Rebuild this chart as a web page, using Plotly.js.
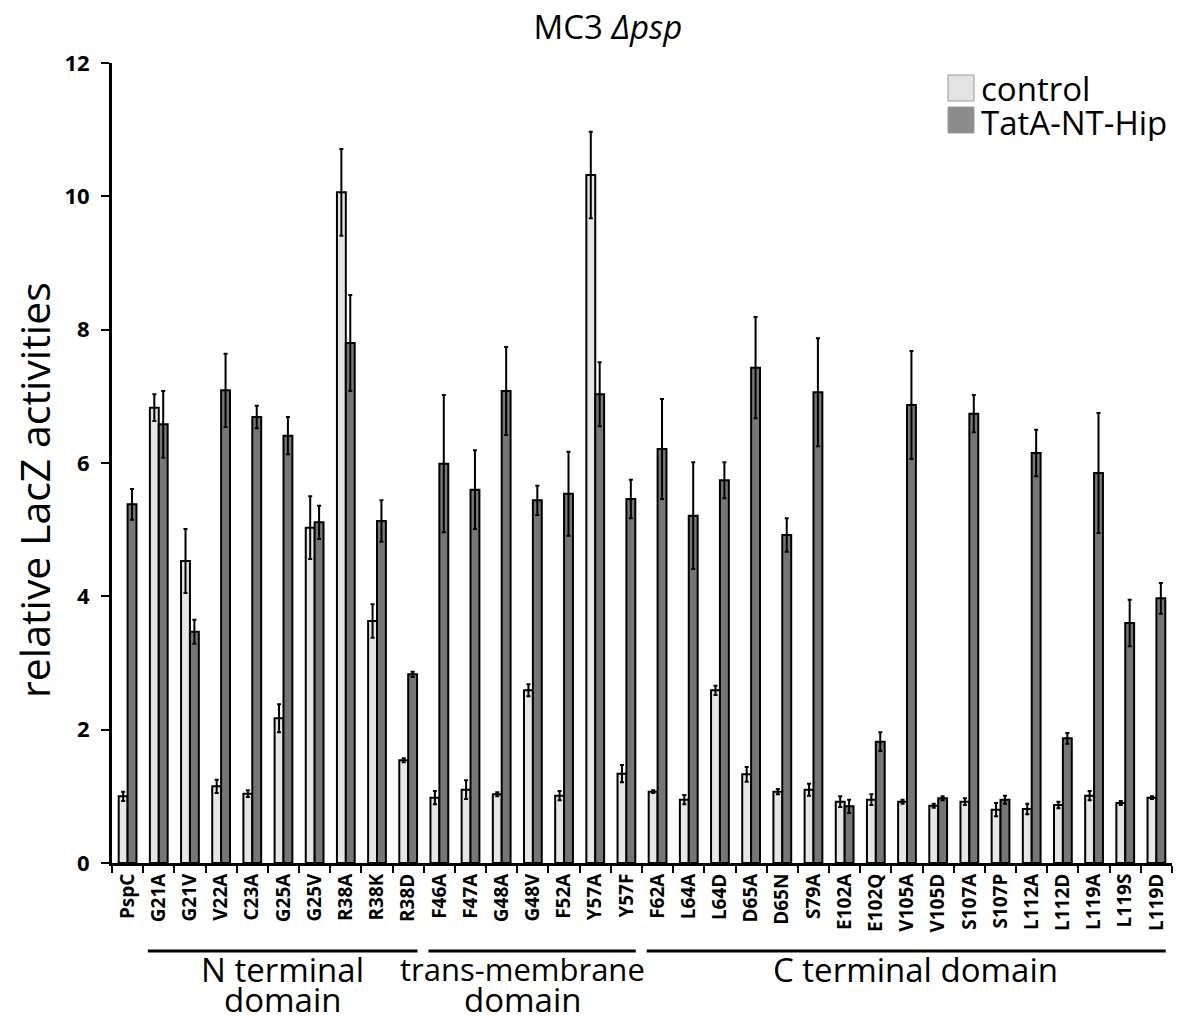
<!DOCTYPE html>
<html>
<head>
<meta charset="utf-8">
<script src="https://cdn.plot.ly/plotly-3.0.1.min.js"></script>
<style>html,body{margin:0;padding:0;background:#fff;}#chart{width:1186px;height:1016px;}</style>
</head>
<body>
<div id="chart"></div>
<script>
const categories = ["PspC","G21A","G21V","V22A","C23A","G25A","G25V","R38A","R38K","R38D",
  "F46A","F47A","G48A","G48V","F52A","Y57A","Y57F",
  "F62A","L64A","L64D","D65A","D65N","S79A","E102A","E102Q","V105A","V105D","S107A","S107P","L112A","L112D","L119A","L119S","L119D"];
const controlValues = [1.00,6.83,4.53,1.15,1.04,2.17,5.03,10.06,3.63,1.54,
  0.98,1.10,1.03,2.59,1.01,10.32,1.34,
  1.07,0.95,2.59,1.33,1.07,1.10,0.92,0.95,0.92,0.86,0.92,0.80,0.81,0.87,1.01,0.90,0.98];
const controlErrors = [0.07,0.20,0.48,0.10,0.05,0.21,0.47,0.65,0.25,0.03,
  0.10,0.14,0.03,0.09,0.07,0.65,0.13,
  0.02,0.07,0.07,0.11,0.04,0.09,0.08,0.08,0.03,0.03,0.05,0.10,0.08,0.05,0.07,0.03,0.02];
const tatValues = [5.38,6.58,3.47,7.09,6.69,6.41,5.11,7.80,5.13,2.83,
  5.99,5.60,7.08,5.44,5.54,7.03,5.46,
  6.21,5.21,5.74,7.43,4.92,7.06,0.85,1.82,6.87,0.97,6.74,0.95,6.15,1.87,5.85,3.60,3.97];
const tatErrors = [0.23,0.50,0.18,0.55,0.17,0.28,0.25,0.72,0.31,0.04,
  1.03,0.59,0.66,0.22,0.63,0.48,0.29,
  0.75,0.80,0.27,0.76,0.25,0.81,0.10,0.14,0.81,0.03,0.28,0.06,0.35,0.08,0.90,0.35,0.23];
const seriesNames = ["control","TatA-NT-Hip"];
const yTicks = [0,2,4,6,8,10,12];
const yTitle = "relative LacZ activities";
const groupLines1 = ["N terminal","trans-membrane","C terminal domain"];
const groupLines2 = ["domain","domain",""];
const groupFirst = ["G21A","F46A","F62A"];
const groupLast = ["R38D","Y57F","L119D"];

const FONT = "'Open Sans', Lato, 'DejaVu Sans', sans-serif";
const colors = ["#e6e6e6","#767676"];
const legendColors = ["#e3e3e3","#8c8c8c"];

// pixel helpers for the plot area (l=112, plot width 1060, t=63, plot height 800)
const px = v => (v - 112) / 1060;
const py = v => (863 - v) / 800;

const traces = [
  {type:"bar", name:seriesNames[0], x:categories, y:controlValues,
   marker:{color:colors[0], line:{color:"#000", width:2}},
   error_y:{type:"data", array:controlErrors, visible:true, color:"#000", thickness:2, width:2},
   showlegend:false},
  {type:"bar", name:seriesNames[1], x:categories, y:tatValues,
   marker:{color:colors[1], line:{color:"#000", width:2}},
   error_y:{type:"data", array:tatErrors, visible:true, color:"#000", thickness:2, width:2},
   showlegend:false}
];

const shapes = [];
const annotations = [];
const groupOffsets = [0, -0.3, 0.3];
for (let g = 0; g < groupLines1.length; g++) {
  const a = categories.indexOf(groupFirst[g]) - 0.35;
  const b = categories.indexOf(groupLast[g]) + 0.3;
  shapes.push({type:"line", xref:"x", yref:"paper", x0:a, x1:b, y0:py(951), y1:py(951),
    line:{color:"#000", width:3}});
  annotations.push({xref:"x", yref:"paper", x:(a+b)/2 + groupOffsets[g], y:py(969),
    yanchor:"middle", xanchor:"center", showarrow:false, text:groupLines1[g],
    height:30, valign:"middle",
    font:{family:FONT, size:g===1 ? 31 : 33, color:"#000"}});
  if (groupLines2[g]) {
    annotations.push({xref:"x", yref:"paper", x:(a+b)/2 + groupOffsets[g], y:py(999),
      yanchor:"middle", xanchor:"center", showarrow:false, text:groupLines2[g],
      height:28, valign:"middle",
      font:{family:FONT, size:33, color:"#000"}});
  }
}
// manual legend
const legendHeights = [30, 38];
const legendCenters = [88, 122];
for (let i = 0; i < seriesNames.length; i++) {
  const top = 75 + i*32;
  shapes.push({type:"rect", xref:"paper", yref:"paper",
    x0:px(948), x1:px(974), y0:py(top), y1:py(top+26),
    fillcolor:legendColors[i], line:{color:"#999", width:1}});
  annotations.push({xref:"paper", yref:"paper", x:px(979), y:py(legendCenters[i]),
    xanchor:"left", yanchor:"middle", showarrow:false, text:seriesNames[i],
    height:legendHeights[i], valign:"middle",
    font:{family:FONT, size:33, color:"#000"}});
}
// y-axis title
annotations.push({xref:"paper", yref:"paper", x:px(34), y:py(490), xanchor:"center", yanchor:"middle",
  textangle:-90, showarrow:false, text:yTitle, font:{family:FONT, size:41, color:"#000"}});

const layout = {
  width:1186, height:1016,
  margin:{l:112, r:14, t:63, b:153},
  paper_bgcolor:"#fff", plot_bgcolor:"#fff",
  barmode:"group", bargap:0.43, bargroupgap:0,
  title:{text:"MC3 <i>Δpsp</i>", x:px(608), xref:"paper", xanchor:"center",
    y:1-27/1016, yref:"container", yanchor:"middle",
    font:{family:FONT, size:33, color:"#000"}},
  xaxis:{type:"category", showline:true, linecolor:"#000", linewidth:3,
    ticks:"outside", tickson:"boundaries", ticklen:7, tickwidth:2, tickcolor:"#000",
    tickangle:-90, tickfont:{family:FONT, size:19, color:"#000", weight:"bold"},
    showgrid:false, zeroline:false, fixedrange:true},
  yaxis:{range:[0,12], tickvals:yTicks, ticktext:yTicks.map(String),
    showline:true, linecolor:"#000", linewidth:3,
    ticks:"outside", ticklen:8, tickwidth:2, tickcolor:"#000", ticklabelstandoff:7,
    tickfont:{family:FONT, size:22, color:"#000", weight:"bold"},
    showgrid:false, zeroline:false},
  shapes:shapes, annotations:annotations, showlegend:false
};

Plotly.newPlot("chart", traces, layout, {displayModeBar:false, staticPlot:true});
</script>
</body>
</html>
